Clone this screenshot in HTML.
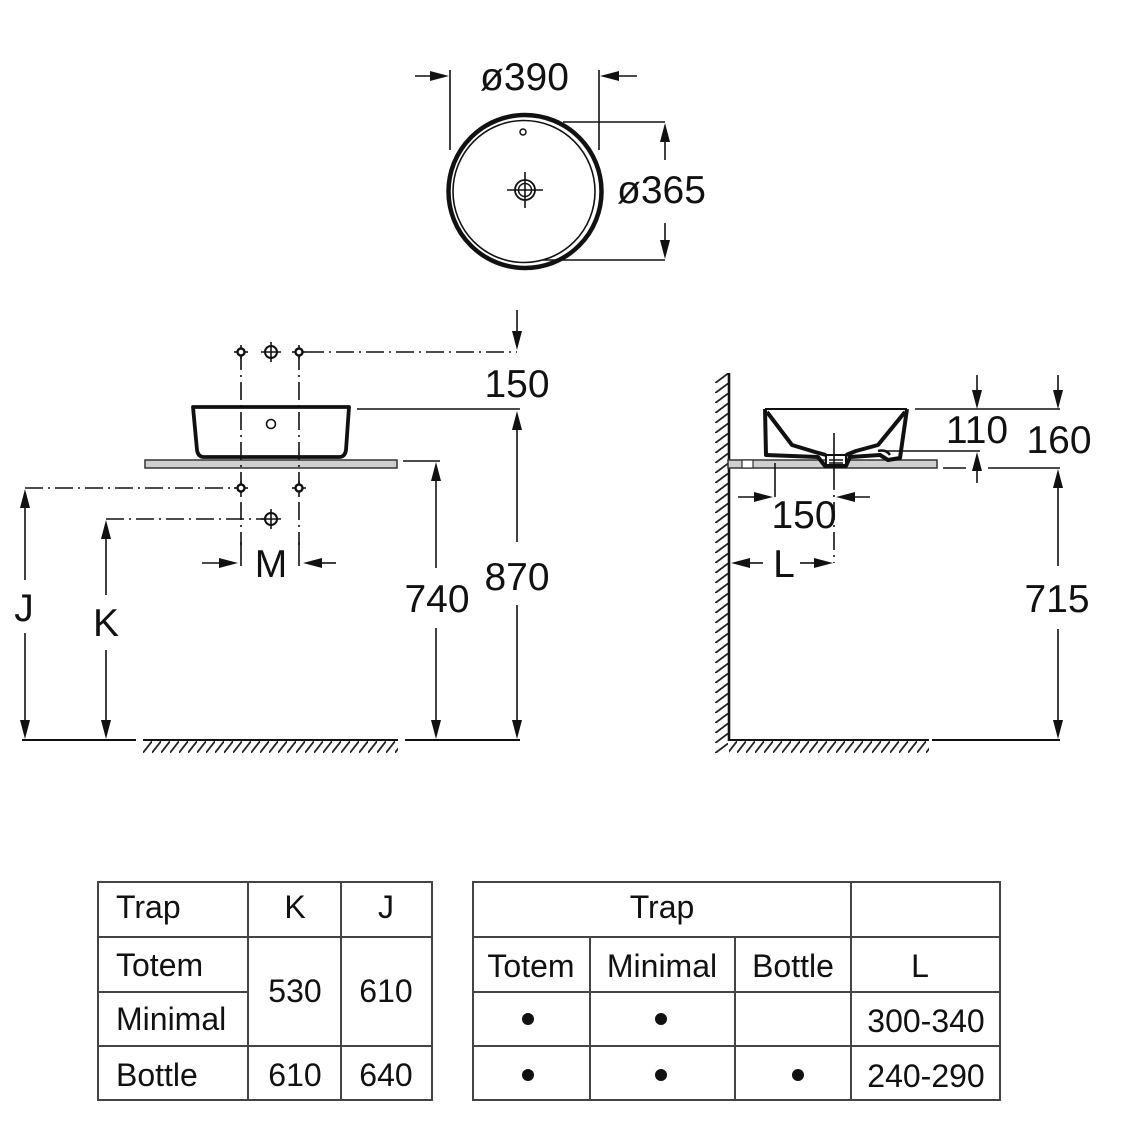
<!DOCTYPE html>
<html><head><meta charset="utf-8"><style>
html,body{margin:0;padding:0;background:#fff;}
svg{display:block;}
text{font-family:"Liberation Sans",Arial,sans-serif;fill:#111;}
</style></head><body>
<svg width="1125" height="1125" viewBox="0 0 1125 1125" xmlns="http://www.w3.org/2000/svg">
<defs>
<pattern id="hf" patternUnits="userSpaceOnUse" x="143" y="741" width="9" height="12"><line x1="-1" y1="13" x2="10" y2="-1" stroke="#222" stroke-width="1.8"/></pattern>
<pattern id="hw" patternUnits="userSpaceOnUse" x="715" y="373" width="14" height="10"><line x1="-1" y1="11" x2="15" y2="-1" stroke="#222" stroke-width="1.8"/></pattern>
</defs>
<rect width="1125" height="1125" fill="#fff"/>

<!-- ===== TOP VIEW ===== -->
<g stroke="#111" stroke-width="1.6" fill="none">
  <line x1="415" y1="76" x2="432" y2="76"/>
  <line x1="618" y1="76" x2="637" y2="76"/>
  <line x1="450" y1="70" x2="450" y2="150"/>
  <line x1="599" y1="70" x2="599" y2="150"/>
  <line x1="563" y1="122" x2="665" y2="122"/>
  <line x1="543" y1="260" x2="665" y2="260"/>
  <line x1="665" y1="140" x2="665" y2="160"/>
  <line x1="665" y1="223" x2="665" y2="242"/>
  <circle cx="525" cy="191.5" r="76.5" stroke-width="4.5"/>
  <circle cx="524" cy="191.5" r="71" stroke-width="1.6"/>
  <circle cx="523" cy="132" r="3" stroke-width="1.5"/>
  <circle cx="525" cy="190" r="10" stroke-width="1.8"/>
  <circle cx="525" cy="190" r="6.5" stroke-width="1.5"/>
  <line x1="507" y1="190" x2="543" y2="190"/>
  <line x1="525" y1="172" x2="525" y2="208"/>
</g>
<g fill="#111">
  <polygon points="449,76 430,71 430,81"/>
  <polygon points="600,76 619,71 619,81"/>
  <polygon points="665,123 660,142 670,142"/>
  <polygon points="665,259 660,240 670,240"/>
</g>
<text x="480" y="90" font-size="39">ø390</text>
<text x="617" y="203" font-size="39">ø365</text>

<!-- ===== LEFT ELEVATION ===== -->
<path d="M193,407 L349,407 L346,450 Q345,457 339,457 L204,457 Q198,457 197,450 Z" fill="#fff" stroke="#111" stroke-width="3.8" stroke-linejoin="round"/>
<circle cx="271" cy="424" r="4.5" fill="none" stroke="#111" stroke-width="1.6"/>
<rect x="145" y="460" width="252" height="8" fill="#cfcfcf" stroke="#333" stroke-width="1.5"/>

<g stroke="#111" stroke-width="1.6" fill="none">
  <line x1="306" y1="352" x2="517" y2="352" stroke-dasharray="18 5 2 5"/>
  <line x1="241" y1="352" x2="241" y2="545" stroke-dasharray="18 5 2 5"/>
  <line x1="299" y1="352" x2="299" y2="545" stroke-dasharray="18 5 2 5"/>
  <line x1="241" y1="542" x2="241" y2="566"/>
  <line x1="299" y1="542" x2="299" y2="566"/>
  <line x1="25" y1="488" x2="236" y2="488" stroke-dasharray="18 5 2 5"/>
  <line x1="106" y1="519" x2="264" y2="519" stroke-dasharray="18 5 2 5"/>
  <line x1="517" y1="310" x2="517" y2="332"/>
  <line x1="357" y1="409" x2="520" y2="409"/>
  <line x1="517" y1="428" x2="517" y2="542"/>
  <line x1="517" y1="605" x2="517" y2="722"/>
  <line x1="403" y1="461" x2="440" y2="461"/>
  <line x1="436" y1="478" x2="436" y2="568"/>
  <line x1="436" y1="628" x2="436" y2="722"/>
  <line x1="25" y1="505" x2="25" y2="580"/>
  <line x1="25" y1="633" x2="25" y2="722"/>
  <line x1="106" y1="536" x2="106" y2="595"/>
  <line x1="106" y1="650" x2="106" y2="722"/>
  <line x1="202" y1="563" x2="222" y2="563"/>
  <line x1="320" y1="563" x2="336" y2="563"/>
  <line x1="22" y1="740" x2="136" y2="740" stroke-width="2"/>
  <line x1="143" y1="740" x2="398" y2="740" stroke-width="2"/>
  <line x1="405" y1="740" x2="520" y2="740" stroke-width="2"/>
</g>
<rect x="143" y="741" width="255" height="12" fill="url(#hf)"/>
<g fill="#111">
  <polygon points="517,350 512,331 522,331"/>
  <polygon points="517,411 512,430 522,430"/>
  <polygon points="517,739 512,720 522,720"/>
  <polygon points="436,462 431,481 441,481"/>
  <polygon points="436,739 431,720 441,720"/>
  <polygon points="25,489 20,508 30,508"/>
  <polygon points="25,739 20,720 30,720"/>
  <polygon points="106,520 101,539 111,539"/>
  <polygon points="106,739 101,720 111,720"/>
  <polygon points="238,563 219,558 219,568"/>
  <polygon points="303,563 322,558 322,568"/>
</g>
<g stroke="#111" fill="#fff">
  <g transform="translate(241,352)"><line x1="-7" y1="0" x2="7" y2="0" stroke-width="1.6"/><line x1="0" y1="-7" x2="0" y2="7" stroke-width="1.6"/><circle r="3.5" stroke-width="2.4"/></g>
  <g transform="translate(299,352)"><line x1="-7" y1="0" x2="7" y2="0" stroke-width="1.6"/><line x1="0" y1="-7" x2="0" y2="7" stroke-width="1.6"/><circle r="3.5" stroke-width="2.4"/></g>
  <g transform="translate(241,488)"><line x1="-7" y1="0" x2="7" y2="0" stroke-width="1.6"/><line x1="0" y1="-7" x2="0" y2="7" stroke-width="1.6"/><circle r="3.5" stroke-width="2.4"/></g>
  <g transform="translate(299,488)"><line x1="-7" y1="0" x2="7" y2="0" stroke-width="1.6"/><line x1="0" y1="-7" x2="0" y2="7" stroke-width="1.6"/><circle r="3.5" stroke-width="2.4"/></g>
  <g transform="translate(271,352)"><circle r="6" stroke-width="2"/><line x1="-10" y1="0" x2="10" y2="0" stroke-width="1.6"/><line x1="0" y1="-10" x2="0" y2="10" stroke-width="1.6"/></g>
  <g transform="translate(271,519)"><circle r="6" stroke-width="2"/><line x1="-10" y1="0" x2="10" y2="0" stroke-width="1.6"/><line x1="0" y1="-10" x2="0" y2="10" stroke-width="1.6"/></g>
</g>
<text x="517" y="397" font-size="39" text-anchor="middle">150</text>
<text x="517" y="590" font-size="39" text-anchor="middle">870</text>
<text x="437" y="612" font-size="39" text-anchor="middle">740</text>
<text x="24" y="621" font-size="39" text-anchor="middle">J</text>
<text x="106" y="636" font-size="39" text-anchor="middle">K</text>
<text x="271" y="577" font-size="39" text-anchor="middle">M</text>

<!-- ===== RIGHT SIDE VIEW ===== -->
<rect x="715" y="373" width="13" height="380" fill="url(#hw)"/>
<rect x="729" y="741" width="200" height="12" fill="url(#hf)"/>
<g stroke="#111" fill="none" stroke-width="1.6">
  <line x1="729" y1="373" x2="729" y2="741" stroke-width="2.6"/>
  <line x1="729" y1="740" x2="929" y2="740" stroke-width="2"/>
  <line x1="932" y1="740" x2="1060" y2="740" stroke-width="2"/>
</g>
<rect x="728" y="460" width="209" height="8" fill="#cfcfcf" stroke="#333" stroke-width="1.5"/>
<rect x="742" y="460" width="11" height="8" fill="#fff" stroke="#333" stroke-width="1.2"/>
<line x1="765" y1="409" x2="907" y2="409" stroke="#111" stroke-width="2"/>
<rect x="826" y="455" width="20" height="12" fill="#fff" stroke="#111" stroke-width="2"/>
<path d="M765,409 L766,455 L818,457 L825,466 L846,466 L850,457 L880,455 L888,460 L900,458 L907,409" fill="none" stroke="#111" stroke-width="4" stroke-linejoin="round"/>
<path d="M767,412 L792,445 L815,452 L826,455 M846,455 L856,451 L878,445 L905,412" fill="none" stroke="#111" stroke-width="4" stroke-linejoin="round"/>
<path d="M878,451 Q886,449 890,455" fill="none" stroke="#111" stroke-width="2.5"/>
<line x1="829" y1="460" x2="843" y2="460" stroke="#111" stroke-width="1.5"/>
<line x1="829" y1="463" x2="843" y2="463" stroke="#111" stroke-width="1.5"/>
<g stroke="#111" fill="none" stroke-width="1.6">
  <line x1="834" y1="433" x2="834" y2="472"/>
  <line x1="834" y1="472" x2="834" y2="563" stroke-dasharray="18 5 2 5"/>
  <line x1="775" y1="463" x2="775" y2="497"/>
  <line x1="738" y1="497" x2="756" y2="497"/>
  <line x1="853" y1="497" x2="870" y2="497"/>
  <line x1="749" y1="563" x2="763" y2="563"/>
  <line x1="800" y1="563" x2="815" y2="563"/>
  <line x1="977" y1="375" x2="977" y2="392"/>
  <line x1="1058" y1="375" x2="1058" y2="392"/>
  <line x1="915" y1="409" x2="1060" y2="409"/>
  <line x1="885" y1="451" x2="980" y2="451"/>
  <line x1="977" y1="468" x2="977" y2="483"/>
  <line x1="943" y1="468" x2="966" y2="468"/>
  <line x1="988" y1="468" x2="1060" y2="468"/>
  <line x1="1058" y1="485" x2="1058" y2="566"/>
  <line x1="1058" y1="629" x2="1058" y2="722"/>
</g>
<g fill="#111">
  <polygon points="773,497 754,492 754,502"/>
  <polygon points="836,497 855,492 855,502"/>
  <polygon points="731,563 750,558 750,568"/>
  <polygon points="833,563 814,558 814,568"/>
  <polygon points="977,409 972,390 982,390"/>
  <polygon points="1058,409 1053,390 1063,390"/>
  <polygon points="977,452 972,471 982,471"/>
  <polygon points="1058,469 1053,488 1063,488"/>
  <polygon points="1058,739 1053,720 1063,720"/>
</g>
<text x="804" y="528" font-size="39" text-anchor="middle">150</text>
<text x="784" y="577" font-size="39" text-anchor="middle">L</text>
<text x="977" y="443" font-size="39" text-anchor="middle">110</text>
<text x="1059" y="453" font-size="39" text-anchor="middle">160</text>
<text x="1057" y="612" font-size="39" text-anchor="middle">715</text>

<!-- ===== TABLE 1 ===== -->
<g stroke="#444" stroke-width="2" fill="none">
  <rect x="98" y="882" width="334" height="218"/>
  <line x1="248" y1="882" x2="248" y2="1100"/>
  <line x1="341" y1="882" x2="341" y2="1100"/>
  <line x1="98" y1="937" x2="432" y2="937"/>
  <line x1="98" y1="992" x2="248" y2="992"/>
  <line x1="98" y1="1046" x2="432" y2="1046"/>
</g>
<g font-size="32">
  <text x="116" y="918">Trap</text>
  <text x="295" y="918" text-anchor="middle">K</text>
  <text x="386" y="918" text-anchor="middle">J</text>
  <text x="116" y="976">Totem</text>
  <text x="116" y="1030">Minimal</text>
  <text x="295" y="1002" text-anchor="middle">530</text>
  <text x="386" y="1002" text-anchor="middle">610</text>
  <text x="116" y="1086">Bottle</text>
  <text x="295" y="1086" text-anchor="middle">610</text>
  <text x="386" y="1086" text-anchor="middle">640</text>
</g>

<!-- ===== TABLE 2 ===== -->
<g stroke="#444" stroke-width="2" fill="none">
  <rect x="473" y="882" width="527" height="218"/>
  <line x1="851" y1="882" x2="851" y2="1100"/>
  <line x1="590" y1="937" x2="590" y2="1100"/>
  <line x1="735" y1="937" x2="735" y2="1100"/>
  <line x1="473" y1="937" x2="1000" y2="937"/>
  <line x1="473" y1="992" x2="1000" y2="992"/>
  <line x1="473" y1="1046" x2="1000" y2="1046"/>
</g>
<g font-size="32" text-anchor="middle">
  <text x="662" y="918">Trap</text>
  <text x="531" y="977">Totem</text>
  <text x="662" y="977">Minimal</text>
  <text x="793" y="977">Bottle</text>
  <text x="920" y="977">L</text>
  <text x="926" y="1032">300-340</text>
  <text x="926" y="1087">240-290</text>
</g>
<g fill="#111">
  <circle cx="528" cy="1019" r="6"/>
  <circle cx="661" cy="1019" r="6"/>
  <circle cx="528" cy="1075" r="6"/>
  <circle cx="661" cy="1075" r="6"/>
  <circle cx="798" cy="1075" r="6"/>
</g>
</svg>
</body></html>
